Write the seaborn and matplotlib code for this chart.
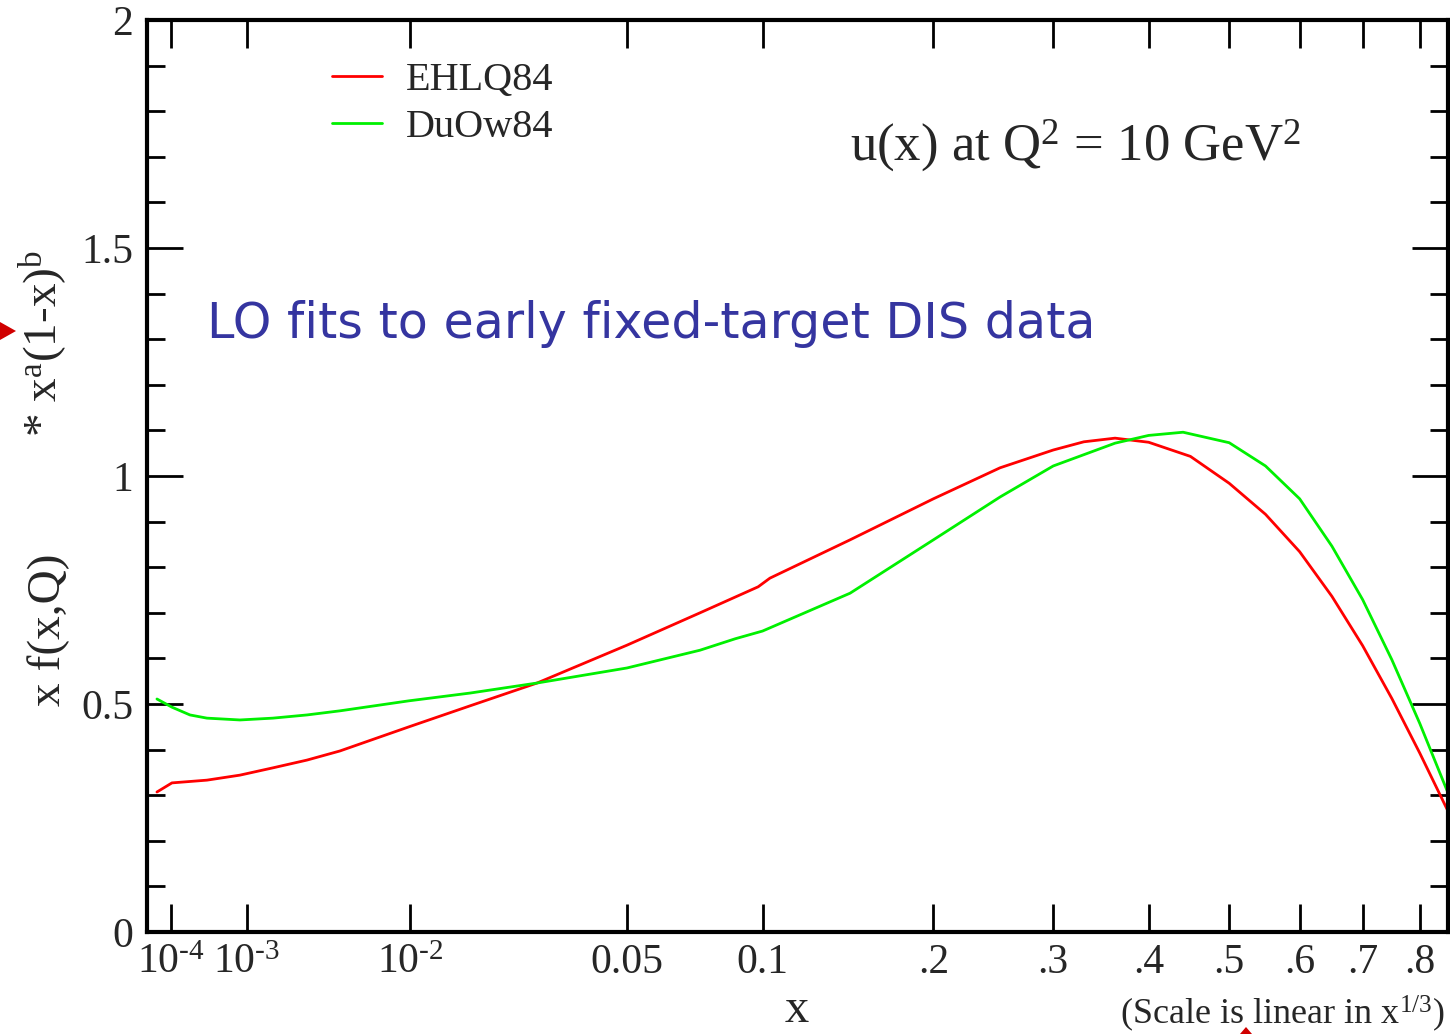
import numpy as np
import pandas as pd
import matplotlib
matplotlib.use("Agg")
import matplotlib.pyplot as plt
from matplotlib.patches import Polygon
from matplotlib.ticker import NullLocator, MultipleLocator
import seaborn as sns

# u-quark momentum density x*u(x) at Q^2 = 10 GeV^2
x_ehlq = [4.86e-5, 1.045e-4, 3.70e-4, 8.6e-4, 1.66e-3, 2.89e-3, 4.55e-3, 9.87e-3,
          0.0171, 0.02835, 0.0500, 0.0741, 0.0980, 0.1034, 0.1455, 0.2, 0.2523,
          0.3, 0.33, 0.3626, 0.4, 0.45, 0.5, 0.55, 0.6, 0.65, 0.7, 0.75, 0.8,
          0.8525]
y_ehlq = [0.307, 0.327, 0.333, 0.344, 0.360, 0.377, 0.397, 0.450,
          0.496, 0.546, 0.629, 0.700, 0.757, 0.776, 0.860, 0.950, 1.018,
          1.057, 1.075, 1.083, 1.074, 1.043, 0.984, 0.916, 0.834, 0.736, 0.628,
          0.512, 0.392, 0.265]

x_duow = [4.86e-5, 1.045e-4, 2.14e-4, 3.70e-4, 8.6e-4, 1.66e-3, 2.89e-3, 4.55e-3,
          9.87e-3, 0.0171, 0.02835, 0.0500, 0.0741, 0.088, 0.1, 0.1455, 0.2,
          0.2523, 0.3, 0.3626, 0.4, 0.4409, 0.5, 0.55, 0.6, 0.65, 0.7, 0.75,
          0.8, 0.8525]
y_duow = [0.511, 0.493, 0.476, 0.469, 0.465, 0.469, 0.476, 0.485,
          0.507, 0.524, 0.546, 0.579, 0.618, 0.643, 0.660, 0.743, 0.860,
          0.954, 1.022, 1.072, 1.089, 1.096, 1.073, 1.022, 0.950, 0.846, 0.729,
          0.597, 0.457, 0.305]

series_names = ["EHLQ84", "DuOw84"]
series_colors = ["#ff0000", "#00f000"]

tick_values = [1e-4, 1e-3, 1e-2, 0.05, 0.1, 0.2, 0.3, 0.4, 0.5, 0.6, 0.7, 0.8]
tick_labels = ["10$^{\u20104}$", "10$^{\u20103}$", "10$^{\u20102}$", "0.05", "0.1",
               ".2", ".3", ".4", ".5", ".6", ".7", ".8"]
y_tick_values = [0, 0.5, 1, 1.5, 2]
y_tick_labels = ["0", "0.5", "1", "1.5", "2"]

df = pd.concat([
    pd.DataFrame({"x": x_ehlq, "y": y_ehlq, "pdf": series_names[0]}),
    pd.DataFrame({"x": x_duow, "y": y_duow, "pdf": series_names[1]}),
], ignore_index=True)

sns.set_theme(style="ticks")
plt.rcParams["font.family"] = ["Liberation Serif", "DejaVu Serif"]
plt.rcParams["mathtext.fontset"] = "custom"
plt.rcParams["mathtext.rm"] = "Liberation Serif"
plt.rcParams["mathtext.it"] = "Liberation Serif:italic"
plt.rcParams["mathtext.bf"] = "Liberation Serif:bold"

W, H = 1450, 1034
fig = plt.figure(figsize=(W / 100, H / 100), dpi=100)
ax = fig.add_axes([147 / W, 102 / H, 1301 / W, 912 / H])

# x axis is linear in x^(1/3)
ax.set_xscale("function", functions=(np.cbrt, lambda u: np.power(u, 3)))

sns.lineplot(data=df, x="x", y="y", hue="pdf", hue_order=series_names,
             palette=dict(zip(series_names, series_colors)),
             sort=False, estimator=None, linewidth=2, ax=ax)

ax.set_xlim(2.56e-5, 0.8525)
ax.set_ylim(0, 2)

ax.set_xticks(tick_values)
ax.set_xticklabels(tick_labels)
ax.xaxis.set_minor_locator(NullLocator())
ax.set_yticks(y_tick_values)
ax.set_yticklabels(y_tick_labels)
ax.yaxis.set_minor_locator(MultipleLocator(0.1))

ax.tick_params(axis="x", which="major", direction="in", top=True, bottom=True,
               length=20, width=2, labelsize=30, pad=8, color="black")
ax.tick_params(axis="y", which="major", direction="in", left=True, right=True,
               length=26, width=2, labelsize=30, pad=10, color="black")
ax.tick_params(axis="y", which="minor", direction="in", left=True, right=True,
               length=13, width=2, color="black")
for sp in ax.spines.values():
    sp.set_linewidth(3)
    sp.set_color("black")

ax.set_xlabel("")
ax.set_ylabel("")

handles, labels = ax.get_legend_handles_labels()
ax.legend(handles, labels, loc="upper left", bbox_to_anchor=(0.114, 0.994),
          frameon=False, fontsize=29, handlelength=1.25, handletextpad=0.6,
          labelspacing=0.25)

# axis titles and annotations
fig.text(797 / W, 1 - 1022 / H, "x", fontsize=35, ha="center", va="baseline")
fig.text(1282 / W, 1 - 1024 / H, "(Scale is linear in x$^{\\mathrm{1/3}}$)",
         fontsize=26, ha="center", va="baseline")
fig.text(70 / W, 1 - 630 / H, "x f(x,Q)", fontsize=34, rotation=90,
         ha="right", va="center")
fig.text(70 / W, 1 - 343 / H,
         "* x$^{\\mathrm{a}}$(1-x)$^{\\mathrm{b}}$", fontsize=34, rotation=90,
         ha="right", va="center")
fig.text(1075 / W, 1 - 160 / H, "u(x) at Q$^{2}$ = 10 GeV$^{2}$",
         fontsize=38, ha="center", va="baseline")
fig.text(207 / W, 1 - 338 / H, "LO fits to early fixed-target DIS data",
         fontsize=35.4, ha="left", va="baseline", color="#3535a0",
         family="DejaVu Sans")

# red pointer markers at the slide edges
fig.patches.append(Polygon([(0, H - 322), (16, H - 331), (0, H - 340)],
                           closed=True, transform=None, facecolor="#d00000",
                           edgecolor="none", figure=fig))
fig.patches.append(Polygon([(1240, 0), (1246, 7), (1252, 0)],
                           closed=True, transform=None, facecolor="#d00000",
                           edgecolor="none", figure=fig))

fig.savefig("out.png", dpi=100, facecolor="white")
